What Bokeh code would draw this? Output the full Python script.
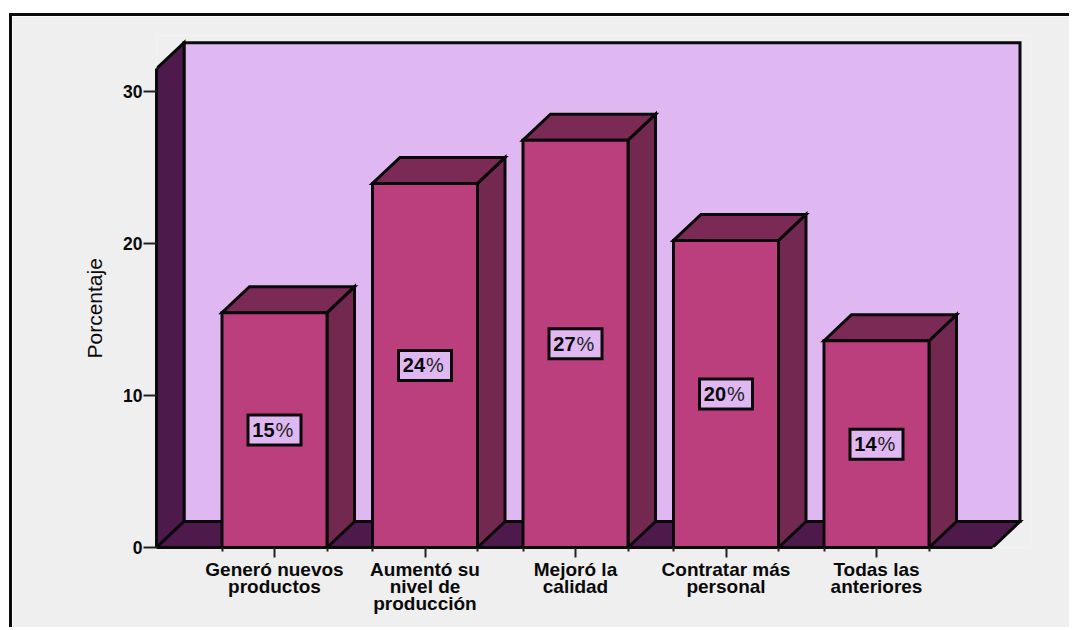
from bokeh.embed import file_html
from bokeh.resources import INLINE
from bokeh.plotting import figure
from bokeh.models import FixedTicker, LinearAxis, Range1d, ColumnDataSource, Title
from bokeh.core.properties import value

categories = ["Generó nuevos\nproductos", "Aumentó su\nnivel de\nproducción", "Mejoró la\ncalidad",
              "Contratar más\npersonal", "Todas las\nanteriores"]
percentages = [15.45, 23.95, 26.8, 20.2, 13.6]
y_ticks = [0, 10, 20, 30]

PANEL = "#efefef"
WALL = "#dfb8f2"
WALL_DARK = "#4e1a4c"
BAR_FRONT = "#bb3f7c"
BAR_SIDE = "#73284f"
BAR_TOP = "#7a2a55"
INK = "#0a0a0a"
FONT = "Liberation Sans"

# Pixel scale of the plotting area and the oblique depth of the 3D box
PX_PER_CAT = 150.5
PX_PER_UNIT = 15.2
DX = 27.5 / PX_PER_CAT
DY = 26 / PX_PER_UNIT
HALF_BAR = 52.5 / PX_PER_CAT
LEFT = -118 / PX_PER_CAT
RIGHT_FRONT = 718 / PX_PER_CAT
WALL_TOP = 31.5

# Panel edge: the canvas starts just inside the CSS border
CANVAS_X, CANVAS_Y = 12, 16
W, H = 1072 - CANVAS_X, 630 - CANVAS_Y
xs = list(range(len(categories)))

p = figure(
    width=W, height=H, output_backend="svg", toolbar_location=None,
    x_range=Range1d(LEFT, 756 / PX_PER_CAT), y_range=Range1d(0, 512 / PX_PER_UNIT),
    x_axis_location=None, y_axis_location=None,
    min_border_left=156 - CANVAS_X, min_border_right=42,
    min_border_top=35 - CANVAS_Y, min_border_bottom=83,
    border_fill_color=PANEL, background_fill_color=PANEL, outline_line_color=None,
    margin=(CANVAS_Y - 3, 0, 0, CANVAS_X - 3),
    styles={"border-top": f"3px solid {INK}", "border-left": f"3px solid {INK}"},
)
p.grid.visible = False

line = dict(line_color=INK, line_width=3, line_join="miter")

# Back wall, left wall and floor of the box
p.patch([LEFT + DX, RIGHT_FRONT + DX, RIGHT_FRONT + DX, LEFT + DX],
        [DY, DY, WALL_TOP + DY, WALL_TOP + DY], fill_color=WALL, **line)
p.patch([LEFT, LEFT + DX, LEFT + DX, LEFT],
        [WALL_TOP, WALL_TOP + DY, DY, 0], fill_color=WALL_DARK, **line)
p.patch([LEFT, LEFT + DX, RIGHT_FRONT + DX, RIGHT_FRONT],
        [0, DY, DY, 0], fill_color=WALL_DARK, **line)

# Bars: side face, top face, then the front face
for x, v in zip(xs, percentages):
    l, r = x - HALF_BAR, x + HALF_BAR
    p.patch([r, r + DX, r + DX, r], [0, DY, v + DY, v], fill_color=BAR_SIDE, **line)
    p.patch([l, l + DX, r + DX, r], [v, v + DY, v + DY, v], fill_color=BAR_TOP, **line)
    p.quad(left=[l], right=[r], bottom=[0], top=[v], fill_color=BAR_FRONT, **line)

# Value labels centred on each bar
src = ColumnDataSource(dict(
    x=xs, y=[v / 2 for v in percentages],
    num=[f"{round(v)}" for v in percentages], pct=["%"] * len(xs),
))
p.rect("x", "y", width=53, height=30, width_units="screen", height_units="screen",
       source=src, fill_color=WALL, line_color=INK, line_width=3, line_join="miter")
p.text("x", "y", text="num", source=src, text_font=value(FONT), text_font_style="bold",
       text_font_size="20px", text_color=INK, text_align="right", text_baseline="middle", x_offset=0)
p.text("x", "y", text="pct", source=src, text_font=value(FONT), text_font_size="20px",
       text_color="#222222", text_align="left", text_baseline="middle", x_offset=1)

yaxis = LinearAxis(
    ticker=FixedTicker(ticks=y_ticks), bounds=(0, WALL_TOP),
    major_label_text_font=FONT, major_label_text_font_style="bold",
    major_label_text_font_size="17.5px", major_label_text_color=INK, major_label_standoff=1,
    major_tick_out=13, major_tick_in=0, major_tick_line_color="#222222", major_tick_line_width=2,
    minor_tick_out=0, minor_tick_in=0, axis_line_color=INK, axis_line_width=3,
)
p.add_layout(yaxis, "left")

# The axis title sits lower than the frame's centre, so it is offset along the frame
p.add_layout(Title(
    text="Porcentaje", align="left", offset=189, standoff=29,
    text_font=FONT, text_font_size="21px", text_font_style="normal", text_color=INK,
), "left")

edges = [e for x in xs for e in (x - HALF_BAR, x + HALF_BAR)]
xaxis = LinearAxis(
    ticker=FixedTicker(ticks=xs, minor_ticks=edges), bounds=(LEFT, RIGHT_FRONT),
    major_label_overrides={x: c for x, c in zip(xs, categories)},
    major_label_text_font=FONT, major_label_text_font_style="bold",
    major_label_text_font_size="19px", major_label_text_color=INK, major_label_standoff=1,
    major_label_text_line_height=0.82,
    major_tick_out=10, major_tick_in=0, major_tick_line_color="#222222", major_tick_line_width=2,
    minor_tick_out=4, minor_tick_in=0, minor_tick_line_color="#222222", minor_tick_line_width=2,
    axis_line_color=INK, axis_line_width=3,
)
p.add_layout(xaxis, "below")

open("out.html", "w").write(file_html(p, INLINE))
